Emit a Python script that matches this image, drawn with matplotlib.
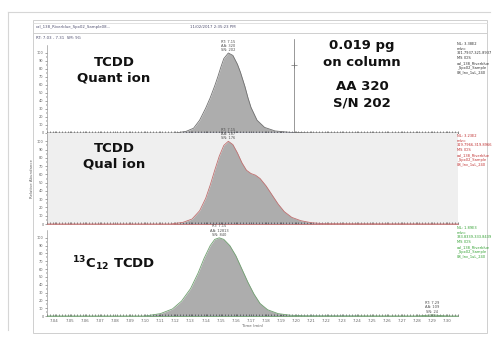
import matplotlib
matplotlib.use("Agg")
import matplotlib.pyplot as plt
from matplotlib.patches import Rectangle
from matplotlib.lines import Line2D

W, H = 500, 340

# x axis (retention time, min)
time_ticks = [7.04, 7.05, 7.06, 7.07, 7.08, 7.09, 7.10, 7.11, 7.12, 7.13, 7.14, 7.15, 7.16,
              7.17, 7.18, 7.19, 7.20, 7.21, 7.22, 7.23, 7.24, 7.25, 7.26, 7.27, 7.28, 7.29, 7.30]

# TCDD quant ion trace (relative abundance %)
quant_t = [7.035, 7.120, 7.127, 7.132, 7.136, 7.140, 7.143, 7.146, 7.148, 7.150, 7.152, 7.155,
           7.158, 7.161, 7.163, 7.166, 7.168, 7.170, 7.174, 7.179, 7.186, 7.196, 7.210, 7.307]
quant_y = [0, 0, 2, 6, 16, 31, 44, 59, 70, 82, 93, 100,
           97, 86, 76, 58, 44, 32, 16, 7, 2.5, 0.8, 0.2, 0]

# TCDD qual ion trace
qual_t = [7.035, 7.117, 7.125, 7.131, 7.136, 7.140, 7.143, 7.146, 7.149, 7.152, 7.155,
          7.158, 7.161, 7.164, 7.167, 7.170, 7.173, 7.176, 7.180, 7.184, 7.188, 7.192,
          7.197, 7.203, 7.210, 7.218, 7.307]
qual_y = [0, 0, 2, 6, 16, 31, 47, 65, 82, 95, 100,
          96, 86, 74, 65, 61, 59, 55, 46, 35, 24, 15,
          8, 4, 1.5, 0.4, 0]

# 13C12 TCDD trace
label_t = [7.035, 7.100, 7.110, 7.118, 7.124, 7.130, 7.135, 7.139, 7.143, 7.146, 7.149,
           7.152, 7.156, 7.160, 7.164, 7.168, 7.172, 7.176, 7.181, 7.188, 7.196, 7.205,
           7.280, 7.286, 7.290, 7.294, 7.300, 7.307]
label_y = [0, 0, 3, 9, 19, 35, 55, 74, 90, 98, 100,
           98, 90, 77, 60, 43, 28, 16, 8, 3, 1, 0.3,
           0, 0.8, 1.5, 0.8, 0, 0]

baseline_spans = [(7.125, 7.198), (7.125, 7.218), (7.10, 7.24)]

fig = plt.figure(figsize=(W / 100, H / 100), dpi=100)
fig.patch.set_facecolor("white")


def px(x, y):
    return x / W, 1 - y / H


# frames around the screenshot
fig.add_artist(Line2D([8 / W, 8 / W], [1 - 12 / H, 1 - 330 / H], color="#d6d6d6", lw=0.8))
fig.add_artist(Line2D([8 / W, 490 / W], [1 - 12 / H, 1 - 12 / H], color="#d6d6d6", lw=0.8))
fig.add_artist(Rectangle(px(33, 333), 454 / W, 313 / H, fill=False, ec="#cfcfcf", lw=0.7))
fig.add_artist(Line2D([33 / W, 487 / W], [1 - 23 / H, 1 - 23 / H], color="#dcdcdc", lw=0.6))
fig.add_artist(Line2D([33 / W, 487 / W], [1 - 33 / H, 1 - 33 / H], color="#cfcfcf", lw=0.7))

tiny = dict(fontsize=2.8, color="#505070")
fig.text(*px(36, 27), "cal_138_Riverblue_Spx02_Sample08...", va="center", **tiny)
fig.text(*px(190, 27), "11/02/2017 2:35:23 PM", va="center", **tiny)
fig.text(*px(36, 38), "RT: 7.03 - 7.31  SM: 9G", va="center", **tiny)

left, width = 47 / W, 411 / W
panels = [
    (133, 88, quant_t, quant_y, "#707070", "white"),
    (224, 91, qual_t, qual_y, "#c07070", "#efefef"),
    (316, 86, label_t, label_y, "#70a070", "white"),
]

axes = []
for i, (ybot, hgt, t, y, edge, bg) in enumerate(panels):
    ax = fig.add_axes([left, 1 - ybot / H, width, hgt / H])
    ax.set_facecolor(bg)
    ax.fill_between(t, y, color="#adadad", lw=0)
    ax.plot(t, y, color=edge, lw=0.6)
    b0, b1 = baseline_spans[i]
    ax.plot([b0, b1], [0.3, 0.3], color="#4a5ad8", lw=0.8)
    ax.set_xlim(7.035, 7.307)
    ax.set_ylim(0, 110)
    ax.set_yticks(range(0, 101, 10))
    ax.set_yticks(range(0, 101, 5), minor=True)
    ax.tick_params(axis="y", labelsize=2.5, length=1.5, width=0.4, pad=1, colors="#606060")
    ax.tick_params(axis="y", which="minor", length=1, width=0.3)
    ax.set_xticks(time_ticks)
    ax.set_xticks([7.035 + k * 0.002 for k in range(137)], minor=True)
    ax.tick_params(axis="x", which="both", direction="in", length=1.2, width=0.4, colors="#303030")
    if i < 2:
        ax.tick_params(axis="x", labelbottom=False)
    else:
        ax.set_xticklabels([f"{v:.2f}" for v in time_ticks], fontsize=2.8, color="#606060")
        ax.tick_params(axis="x", pad=2)
        ax.set_xlabel("Time (min)", fontsize=2.8, color="#606060", labelpad=1)
    for s in ["top", "right"]:
        ax.spines[s].set_visible(False)
    ax.spines["left"].set_linewidth(0.4)
    ax.spines["left"].set_color("#808080")
    ax.spines["bottom"].set_linewidth(0.6)
    ax.spines["bottom"].set_color(edge)
    axes.append(ax)

axes[1].set_ylabel("Relative Abundance", fontsize=2.8, color="#606060", labelpad=2)

# peak labels
pk = dict(fontsize=2.6, color="#505050", ha="center", va="bottom", linespacing=1.1)
axes[0].text(7.155, 101, "RT: 7.15\nAA: 320\nSN: 202", **pk)
axes[1].text(7.155, 101, "RT: 7.15\nAA: 187\nSN: 176", **pk)
axes[2].text(7.149, 101, "RT: 7.15\nAA: 12813\nSN: 840", **pk)
axes[2].text(7.290, 3, "RT: 7.29\nAA: 109\nSN: 24", **pk)

# integration marker
axes[0].plot([7.1983, 7.1983], [0, 118], color="#707070", lw=0.5, clip_on=False)
axes[0].plot([7.1983], [85], marker="+", ms=5, mew=0.5, color="#707070")

# side info
side = "NL: {}\nm/z=\n{}\nMS ICIS\ncal_138_Riverblue\n_Spx02_Sample\n08_Inv_1uL_240"
fig.text(*px(457, 42), side.format("3.38E2", "321.7937-321.8937"), fontsize=2.6,
         color="#303030", va="top", linespacing=1.25)
fig.text(*px(457, 134), side.format("3.23E2", "319.7966-319.8966"), fontsize=2.6,
         color="#c03030", va="top", linespacing=1.25)
fig.text(*px(457, 226), side.format("1.89E3", "333.8339-333.8439"), fontsize=2.6,
         color="#30a030", va="top", linespacing=1.25)

big = dict(fontsize=9.5, fontweight="bold", ha="center", va="center", color="#111111",
           family="DejaVu Sans")
fig.text(*px(114, 62), "TCDD", **big)
fig.text(*px(114, 78), "Quant ion", **big)
fig.text(*px(362, 46), "0.019 pg", **big)
fig.text(*px(362, 62), "on column", **big)
fig.text(*px(362, 87), "AA 320", **big)
fig.text(*px(362, 103), "S/N 202", **big)
fig.text(*px(114, 148), "TCDD", **big)
fig.text(*px(114, 164), "Qual ion", **big)
fig.text(*px(114, 264), r"$\mathbf{^{13}C_{12}}$ TCDD", **big)

fig.savefig("out.png", dpi=100)
